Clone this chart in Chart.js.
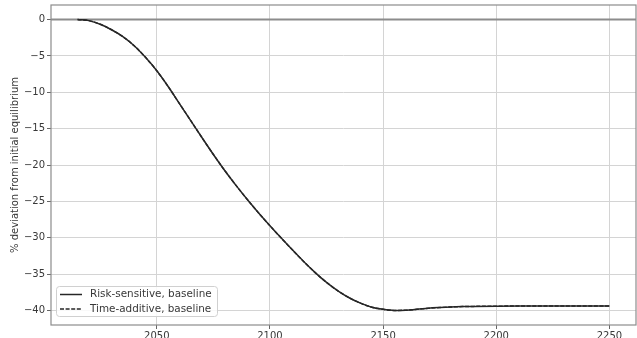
<!DOCTYPE html>
<html>
<head>
<meta charset="utf-8">
<script src="https://cdn.jsdelivr.net/npm/chart.js@4.4.1/dist/chart.umd.min.js"></script>
<style>
  html, body { margin: 0; padding: 0; background: #fff; }
  canvas { display: block; }
</style>
</head>
<body>
<canvas id="chart" width="637" height="338"></canvas>
<script>
// Years of the simulated path
const years = [2015, 2020, 2025, 2030, 2035, 2040, 2045, 2050, 2055, 2060,
               2065, 2070, 2075, 2080, 2085, 2090, 2095, 2100, 2105, 2110,
               2115, 2120, 2125, 2130, 2135, 2140, 2145, 2150, 2155, 2160,
               2165, 2170, 2175, 2180, 2185, 2190, 2200, 2210, 2220, 2230,
               2240, 2250];

// % deviation from the initial equilibrium, risk-sensitive preferences
const riskSensitive = [0.0, -0.15, -0.65, -1.4, -2.35, -3.6, -5.2, -7.05, -9.2, -11.55,
                       -13.9, -16.25, -18.55, -20.75, -22.8, -24.75, -26.6, -28.35, -30.05, -31.7,
                       -33.3, -34.8, -36.15, -37.3, -38.25, -39.0, -39.55, -39.85, -40.0, -39.97,
                       -39.85, -39.7, -39.6, -39.52, -39.47, -39.44, -39.41, -39.4, -39.4, -39.4,
                       -39.4, -39.4];

// % deviation from the initial equilibrium, time-additive preferences
const timeAdditive = [0.0, -0.15, -0.65, -1.4, -2.35, -3.6, -5.2, -7.05, -9.2, -11.55,
                      -13.9, -16.25, -18.55, -20.75, -22.8, -24.75, -26.6, -28.35, -30.05, -31.7,
                      -33.3, -34.8, -36.15, -37.3, -38.25, -39.0, -39.55, -39.85, -40.0, -39.97,
                      -39.85, -39.7, -39.6, -39.52, -39.47, -39.44, -39.41, -39.4, -39.4, -39.4,
                      -39.4, -39.4];

const xTicks = [2050, 2100, 2150, 2200, 2250];
const yTicks = [0, -5, -10, -15, -20, -25, -30, -35, -40];
const seriesLabels = ['Risk-sensitive, baseline', 'Time-additive, baseline'];
const yTitle = '% deviation from initial equilibrium';

const FONT = 'DejaVu Sans';
const TEXT = '#383838';
const LINE = '#262626';
const DASH = [4, 1.6];

const toPoints = (vals) => years.map((yr, i) => ({ x: yr, y: vals[i] }));
const fmt = (v) => (v < 0 ? '\u2212' + Math.abs(v) : String(v));

// Zero reference line and the box round the plot area
const framePlugin = {
  id: 'frame',
  beforeDatasetsDraw(chart) {
    const { ctx, chartArea: a, scales } = chart;
    const y0 = scales.y.getPixelForValue(0);
    ctx.save();
    ctx.strokeStyle = '#8c8c8c';
    ctx.lineWidth = 2;
    ctx.beginPath();
    ctx.moveTo(a.left, y0);
    ctx.lineTo(a.right, y0);
    ctx.stroke();
    ctx.restore();
  },
  afterDraw(chart) {
    const { ctx, chartArea: a } = chart;
    ctx.save();
    ctx.strokeStyle = '#8c8c8c';
    ctx.lineWidth = 1.2;
    ctx.strokeRect(a.left, a.top, a.right - a.left, a.bottom - a.top);
    ctx.restore();
  }
};

// Legend drawn inside the lower-left corner of the plot
const insideLegend = {
  id: 'insideLegend',
  afterDraw(chart) {
    const { ctx, chartArea: a } = chart;
    const x0 = a.left + 5, w = 161, h = 30;
    const y0 = a.bottom - 9 - h;
    ctx.save();
    ctx.fillStyle = 'rgba(255,255,255,0.85)';
    ctx.strokeStyle = '#d0d0d0';
    ctx.lineWidth = 1;
    ctx.beginPath();
    ctx.roundRect(x0 + 0.5, y0 + 0.5, w, h, 3);
    ctx.fill();
    ctx.stroke();
    ctx.font = '10.4px "' + FONT + '"';
    ctx.textBaseline = 'middle';
    ctx.fillStyle = TEXT;
    chart.data.datasets.forEach((ds, i) => {
      const yy = y0 + 8.5 + i * 14.5;
      ctx.strokeStyle = LINE;
      ctx.lineWidth = 1.5;
      ctx.setLineDash(ds.borderDash || []);
      ctx.beginPath();
      ctx.moveTo(x0 + 4, yy);
      ctx.lineTo(x0 + 26, yy);
      ctx.stroke();
      ctx.setLineDash([]);
      ctx.fillText(ds.label, x0 + 34, yy);
    });
    ctx.restore();
  }
};

new Chart(document.getElementById('chart'), {
  type: 'line',
  data: {
    datasets: [
      {
        label: seriesLabels[0],
        data: toPoints(riskSensitive),
        borderColor: LINE,
        borderWidth: 1.5,
        pointRadius: 0,
        cubicInterpolationMode: 'monotone',
        fill: false
      },
      {
        label: seriesLabels[1],
        data: toPoints(timeAdditive),
        borderColor: LINE,
        borderWidth: 1.5,
        borderDash: DASH,
        pointRadius: 0,
        cubicInterpolationMode: 'monotone',
        fill: false
      }
    ]
  },
  options: {
    responsive: false,
    animation: false,
    devicePixelRatio: 1,
    layout: { padding: { top: 5, right: 1, left: 0, bottom: 0 } },
    plugins: {
      legend: { display: false },
      tooltip: { enabled: false }
    },
    scales: {
      x: {
        type: 'linear',
        min: 2003.25,
        max: 2261.75,
        afterBuildTicks: (s) => { s.ticks = xTicks.map(v => ({ value: v })); },
        afterFit: (s) => { s.height = 13; s.paddingLeft = 0; s.paddingRight = 0; },
        ticks: {
          callback: (v) => String(v),
          font: { family: FONT, size: 10 },
          color: TEXT,
          padding: 1,
          maxRotation: 0,
          autoSkip: false
        },
        grid: { color: '#d4d4d4', lineWidth: 1, tickLength: 4, tickColor: '#666' },
        border: { display: false }
      },
      y: {
        type: 'linear',
        min: -42,
        max: 2,
        afterBuildTicks: (s) => { s.ticks = yTicks.map(v => ({ value: v })); },
        afterFit: (s) => { s.width = 51; s.paddingTop = 0; s.paddingBottom = 0; },
        ticks: {
          callback: (v) => fmt(v),
          font: { family: FONT, size: 10 },
          color: TEXT,
          padding: 2,
          autoSkip: false
        },
        grid: { color: '#d4d4d4', lineWidth: 1, tickLength: 4, tickColor: '#666' },
        border: { display: false },
        title: {
          display: true,
          text: yTitle,
          font: { family: FONT, size: 10 },
          color: TEXT,
          padding: { top: 9, bottom: 0 }
        }
      }
    }
  },
  plugins: [framePlugin, insideLegend]
});
</script>
</body>
</html>
